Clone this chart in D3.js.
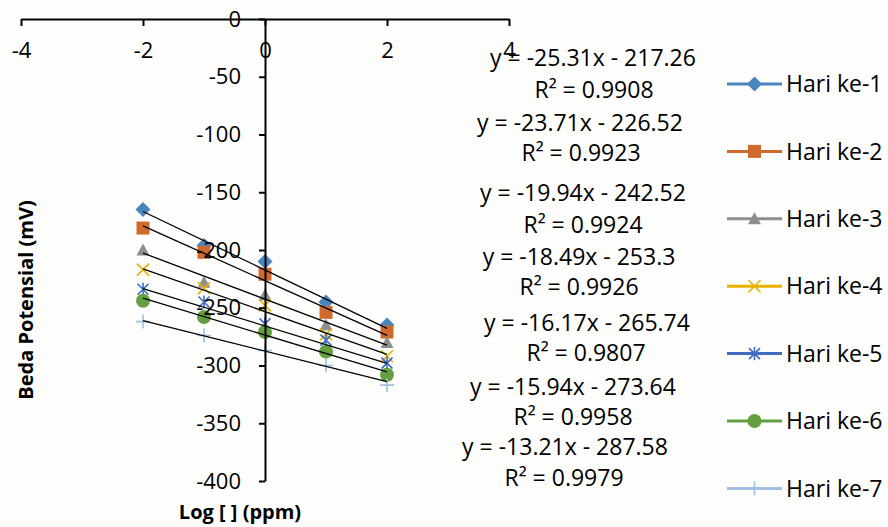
<!DOCTYPE html>
<html>
<head>
<meta charset="utf-8">
<script src="https://cdn.jsdelivr.net/npm/d3@7"></script>
<style>
  body { margin: 0; background: #fdfdfb; }
  svg { display: block; font-family: "Open Sans", sans-serif; }
</style>
</head>
<body>
<svg id="chart" width="888" height="527"></svg>
<script>
// data
const logConc = [-2, -1, 0, 1, 2];
const seriesNames = ["Hari ke-1", "Hari ke-2", "Hari ke-3", "Hari ke-4", "Hari ke-5", "Hari ke-6", "Hari ke-7"];
const hari1 = [-165, -196, -210, -245, -265];
const hari2 = [-181, -202, -221, -254, -271];
const hari3 = [-200, -228, -239, -265, -280];
const hari4 = [-217, -233, -248, -273, -292];
const hari5 = [-234, -245, -264, -278, -298];
const hari6 = [-244, -258, -271, -288, -308];
const hari7 = [-262, -274, -287, -300, -317];
const slopes = [-25.31, -23.71, -19.94, -18.49, -16.17, -15.94, -13.21];
const intercepts = [-217.26, -226.52, -242.52, -253.3, -265.74, -273.64, -287.58];
const rSquared = ["0.9908", "0.9923", "0.9924", "0.9926", "0.9807", "0.9958", "0.9979"];
const xTicks = [-4, -2, 0, 2, 4];
const yTicks = [0, -50, -100, -150, -200, -250, -300, -350, -400];

const allSeries = [hari1, hari2, hari3, hari4, hari5, hari6, hari7];

// styles
const colors = ["#4a86be", "#d06a2c", "#8e8e8e", "#e8b100", "#3f6cbf", "#64a040", "#9fc0e2"];
const markers = ["diamond", "square", "triangle", "times", "asterisk", "circle", "plus"];
// where Excel dropped the trendline labels (centres)
const eqPos = [[593, 58], [580, 123], [583, 193], [579, 257], [587, 323], [573, 387], [565, 447]];
const r2Pos = [[594, 90], [581, 153], [583, 225], [579, 287], [586, 353], [573, 417], [564, 478]];

const svg = d3.select("#chart");

const x = d3.scaleLinear().domain([-4, 4]).range([21, 509]);
const y = d3.scaleLinear().domain([-400, 0]).range([481, 19]);

// custom marker shapes for d3.symbol
const shapes = {
  diamond: { draw(c, s) { const r = Math.sqrt(s) / 2; c.moveTo(0, -r); c.lineTo(r, 0); c.lineTo(0, r); c.lineTo(-r, 0); c.closePath(); } },
  square: { draw(c, s) { const r = Math.sqrt(s) / 2; c.rect(-r, -r, 2 * r, 2 * r); } },
  triangle: { draw(c, s) { const r = Math.sqrt(s) / 2; c.moveTo(0, -r); c.lineTo(r, r * 0.85); c.lineTo(-r, r * 0.85); c.closePath(); } },
  circle: { draw(c, s) { const r = Math.sqrt(s) / 2; c.moveTo(r, 0); c.arc(0, 0, r, 0, 2 * Math.PI); } },
  times: { draw(c, s) { const r = Math.sqrt(s) / 2; c.moveTo(-r, -r); c.lineTo(r, r); c.moveTo(r, -r); c.lineTo(-r, r); } },
  asterisk: { draw(c, s) { const r = Math.sqrt(s) / 2; c.moveTo(-r, -r); c.lineTo(r, r); c.moveTo(r, -r); c.lineTo(-r, r); c.moveTo(0, -r * 1.2); c.lineTo(0, r * 1.2); } },
  plus: { draw(c, s) { const r = Math.sqrt(s) / 2; c.moveTo(-r, 0); c.lineTo(r, 0); c.moveTo(0, -r); c.lineTo(0, r); } }
};
const markerSize = { diamond: 225, square: 169, triangle: 169, circle: 196, times: 144, asterisk: 121, plus: 196 };
const stroked = { times: true, asterisk: true, plus: true };

function drawMarker(sel, i) {
  const m = markers[i];
  sel.attr("d", d3.symbol().type(shapes[m]).size(markerSize[m])())
    .attr("fill", stroked[m] ? "none" : colors[i])
    .attr("stroke", stroked[m] ? colors[i] : "none")
    .attr("stroke-width", 1.6);
}

// markers
allSeries.forEach((vals, i) => {
  svg.append("g")
    .selectAll("path")
    .data(vals)
    .join("path")
    .attr("transform", (d, j) => `translate(${x(logConc[j])},${y(d)})`)
    .call(drawMarker, i);
});

// linear trendlines
const trend = d3.line().x(d => x(d[0])).y(d => y(d[1]));
slopes.forEach((m, i) => {
  const x0 = d3.min(logConc), x1 = d3.max(logConc);
  svg.append("path")
    .attr("d", trend([[x0, m * x0 + intercepts[i]], [x1, m * x1 + intercepts[i]]]))
    .attr("fill", "none")
    .attr("stroke", "#000")
    .attr("stroke-width", 1.3);
});

// axes (plain hyphen for negatives, like Excel)
const plain = d => String(d);
const xAxis = svg.append("g")
  .attr("transform", `translate(0,${y(0)})`)
  .call(d3.axisBottom(x).tickValues(xTicks).tickFormat(plain).tickSize(7).tickPadding(16).tickSizeOuter(0));
const yAxis = svg.append("g")
  .attr("transform", `translate(${x(0)},0)`)
  .call(d3.axisLeft(y).tickValues(yTicks).tickFormat(plain).tickSize(6).tickPadding(18).tickSizeOuter(0));

[xAxis, yAxis].forEach(a => {
  a.select(".domain").attr("stroke", "#000").attr("stroke-width", 2);
  a.selectAll(".tick line").attr("stroke", "#000").attr("stroke-width", 2);
  a.selectAll(".tick text").attr("fill", "#000").style("font-size", "22px").style("font-family", "'Open Sans', sans-serif");
});

// axis titles
svg.append("text")
  .attr("x", 240).attr("y", 519)
  .attr("text-anchor", "middle")
  .style("font-size", "20px").style("font-weight", "bold")
  .text("Log [ ] (ppm)");
svg.append("text")
  .attr("transform", "translate(33,300) rotate(-90)")
  .attr("text-anchor", "middle")
  .style("font-size", "20px").style("font-weight", "bold")
  .text("Beda Potensial (mV)");

// trendline labels
slopes.forEach((m, i) => {
  svg.append("text")
    .attr("x", eqPos[i][0]).attr("y", eqPos[i][1]).attr("dy", "0.36em")
    .attr("text-anchor", "middle")
    .style("font-size", "23px")
    .text(`y = ${m}x - ${Math.abs(intercepts[i])}`);
  svg.append("text")
    .attr("x", r2Pos[i][0]).attr("y", r2Pos[i][1]).attr("dy", "0.36em")
    .attr("text-anchor", "middle")
    .style("font-size", "23px")
    .text(`R² = ${rSquared[i]}`);
});

// legend
const legend = svg.append("g");
seriesNames.forEach((name, i) => {
  const ly = 84 + i * 67.4;
  legend.append("line")
    .attr("x1", 727).attr("x2", 782).attr("y1", ly).attr("y2", ly)
    .attr("stroke", colors[i]).attr("stroke-width", 3);
  legend.append("path")
    .attr("transform", `translate(754.5,${ly})`)
    .call(drawMarker, i);
  legend.append("text")
    .attr("x", 786).attr("y", ly).attr("dy", "0.36em")
    .style("font-size", "23px")
    .text(name);
});
</script>
</body>
</html>
